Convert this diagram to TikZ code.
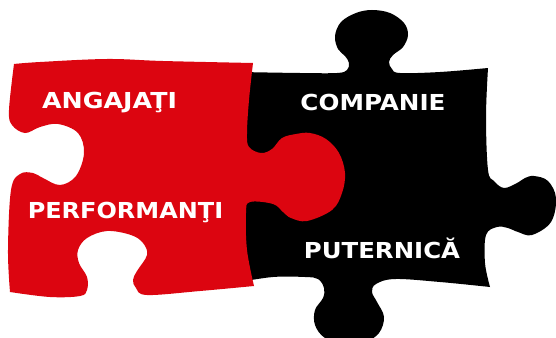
\documentclass[tikz,border=0pt]{standalone}
\usepackage{fontspec}
\setmainfont{DejaVu Sans}
\definecolor{pzred}{HTML}{DC0510}
\newcommand{\widetxt}[2]{\scalebox{#1}[1]{#2}}
\tikzset{
  lbl/.style={text=white,font=\bfseries\fontsize{22}{22}\selectfont,anchor=base,inner sep=0pt},
  sm/.style={smooth,tension=0.6}
}
\begin{document}
\begin{tikzpicture}[x=1pt,y=-1pt]
\useasboundingbox (0,0) rectangle (556,337);
\clip (0,0) rectangle (556,337);
% black piece
\fill[black] (240,72)
 -- plot[sm] coordinates {(240,72) (300,73) (337,73) (347,70) (349,63) (345,56) (338,49) (335,36) (341,22) (356,13) (372,10) (390,13) (404,23) (408,35) (403,47) (393,55) (389,62) (392,69) (400,73) (440,72) (488,68)}
 -- plot[sm] coordinates {(488,68) (486,117) (488,170) (494,181) (504,188) (517,183) (525,178) (534,176) (548,181) (556,198) (551,222) (532,235) (518,232) (508,228) (497,227) (486,235) (485,263) (490,287)}
 -- plot[sm] coordinates {(490,287) (440,282) (395,279) (376,284) (372,292) (377,302) (384,317) (379,333) (365,342) (345,344) (325,338) (315,325) (315,310) (323,298) (324,288) (318,279) (305,277) (273,277) (240,282)} -- cycle;
% red piece
\fill[pzred] plot[sm] coordinates {(14,64) (40,62) (107,59) (163,61) (253,63)}
 -- plot[sm] coordinates {(253,63) (249,100) (247,133) (249,147) (261,153) (272,149) (282,138) (296,134) (310,133) (326,139) (339,153) (345,173) (342,193) (332,210) (307,221) (291,218) (283,212) (273,204) (250,202) (246,213) (247,250) (254,286)}
 -- plot[sm] coordinates {(254,286) (200,291) (147,295) (136,288) (133,280) (137,271) (147,255) (143,243) (131,235) (107,231) (87,238) (78,250) (79,263) (87,277) (87,290) (80,296) (50,297) (10,292)}
 -- plot[sm] coordinates {(10,292) (8,250) (11,190) (20,174) (33,173) (43,178) (60,185) (76,176) (84,153) (78,133) (58,124) (40,127) (25,133) (12,125) (9,110) (14,64)} -- cycle;
% labels
\node[lbl] (a) at (109.5,108) {\widetxt{1.15}{ANGAJAŢI}};
\node[lbl] (p) at (125.5,218) {\widetxt{1.09}{PERFORMANŢI}};
\node[lbl] (c) at (373,110) {\widetxt{1.12}{COMPANIE}};
\node[lbl] (u) at (382,258) {\widetxt{1.11}{PUTERNICĂ}};
\end{tikzpicture}
\end{document}
